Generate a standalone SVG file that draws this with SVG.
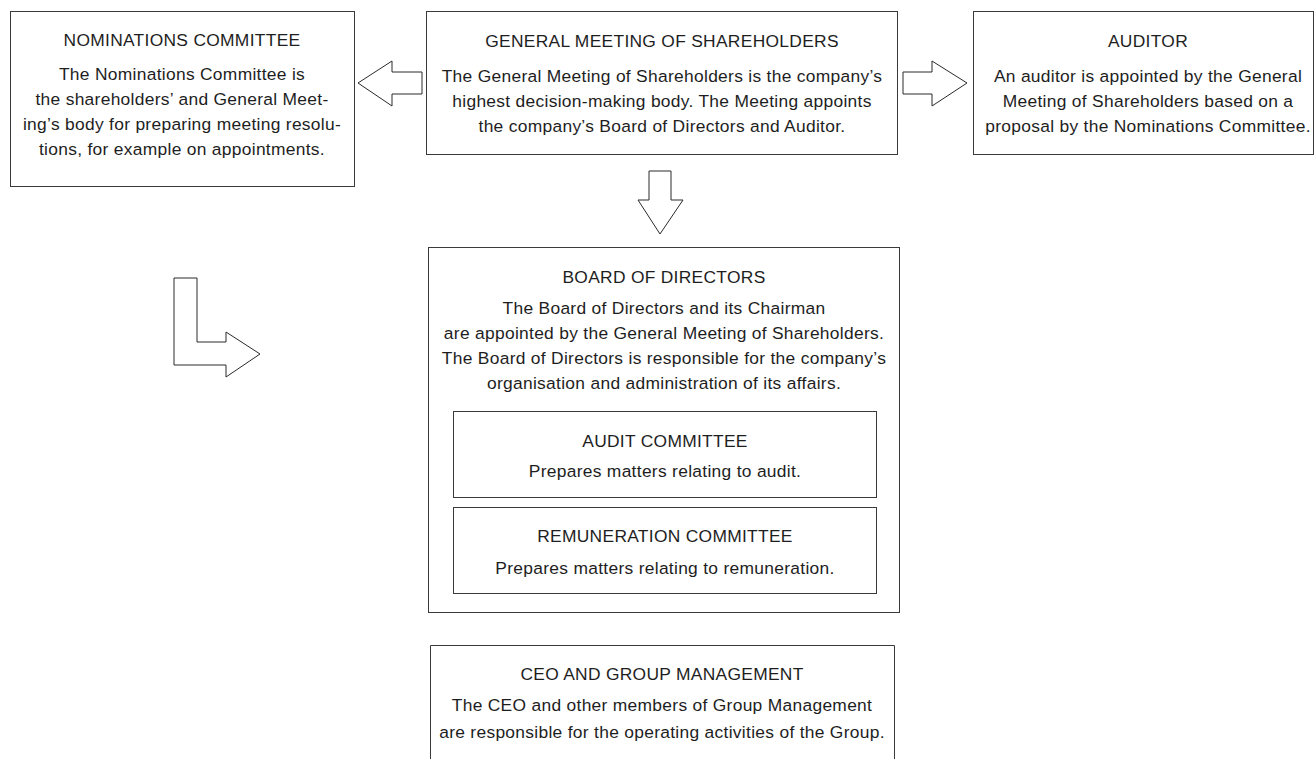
<svg xmlns="http://www.w3.org/2000/svg" width="1314" height="759" viewBox="0 0 1314 759">
<style>
.box{fill:#fff;stroke:#3a3a3a;stroke-width:1}
.arr{fill:#fff;stroke:#2a2a2a;stroke-width:1;stroke-linejoin:miter}
text{font-family:"Liberation Sans",Arial,sans-serif;font-size:17.4px;letter-spacing:0.3px;fill:#1e1e1e;text-anchor:middle}
</style>
<rect width="1314" height="759" fill="#fff"/>
<g id="connectors">
<polygon class="arr" points="422,72 392,72 392,61 358,83 392,106 392,94 422,94"/>
<polygon class="arr" points="903,72 932,72 932,61 967,83 932,106 932,94 903,94"/>
<polygon class="arr" points="649,171 671,171 671,200 683,200 660,234 638,200 649,200"/>
<polygon class="arr" points="174,278 197,278 197,342 226,342 226,332 260,354 226,377 226,365 174,365"/>
</g>
<g id="nominations">
<rect class="box" x="10.5" y="11.5" width="344" height="175"/>
<text x="182" y="46">NOMINATIONS COMMITTEE</text>
<text x="182" y="80">The Nominations Committee is</text>
<text x="182" y="105">the shareholders’ and General Meet-</text>
<text x="182" y="130">ing’s body for preparing meeting resolu-</text>
<text x="182" y="155">tions, for example on appointments.</text>
</g>
<g id="general">
<rect class="box" x="426.5" y="11.5" width="471" height="143"/>
<text x="662" y="47">GENERAL MEETING OF SHAREHOLDERS</text>
<text x="662" y="82">The General Meeting of Shareholders is the company’s</text>
<text x="662" y="107">highest decision-making body. The Meeting appoints</text>
<text x="662" y="132">the company’s Board of Directors and Auditor.</text>
</g>
<g id="auditor">
<rect class="box" x="973.5" y="11.5" width="340" height="143"/>
<text x="1148" y="47">AUDITOR</text>
<text x="1148" y="82">An auditor is appointed by the General</text>
<text x="1148" y="107">Meeting of Shareholders based on a</text>
<text x="1148" y="132">proposal by the Nominations Committee.</text>
</g>
<g id="board">
<rect class="box" x="428.5" y="247.5" width="471" height="365"/>
<text x="664" y="283">BOARD OF DIRECTORS</text>
<text x="664" y="314">The Board of Directors and its Chairman</text>
<text x="664" y="339">are appointed by the General Meeting of Shareholders.</text>
<text x="664" y="364">The Board of Directors is responsible for the company’s</text>
<text x="664" y="389">organisation and administration of its affairs.</text>
</g>
<g id="audit-committee">
<rect class="box" x="453.5" y="411.5" width="423" height="86"/>
<text x="665" y="447">AUDIT COMMITTEE</text>
<text x="665" y="477">Prepares matters relating to audit.</text>
</g>
<g id="remuneration-committee">
<rect class="box" x="453.5" y="507.5" width="423" height="86"/>
<text x="665" y="542">REMUNERATION COMMITTEE</text>
<text x="665" y="574">Prepares matters relating to remuneration.</text>
</g>
<g id="ceo">
<path class="box" d="M430.5,760 V645.5 H894.5 V760"/>
<text x="662" y="680">CEO AND GROUP MANAGEMENT</text>
<text x="662" y="711">The CEO and other members of Group Management</text>
<text x="662" y="738">are responsible for the operating activities of the Group.</text>
</g>
</svg>
